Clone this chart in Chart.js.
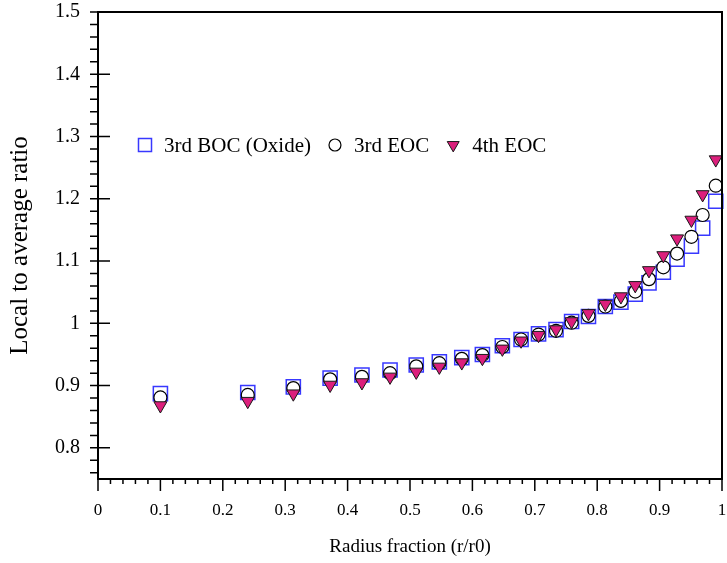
<!DOCTYPE html>
<html>
<head>
<meta charset="utf-8">
<script src="https://cdn.jsdelivr.net/npm/chart.js@4/dist/chart.umd.min.js"></script>
<style>
  html, body { margin: 0; padding: 0; background: #ffffff; }
  #wrap { width: 727px; height: 563px; }
</style>
</head>
<body>
<div id="wrap"><canvas id="c" width="727" height="563"></canvas></div>
<script>
// Ring positions (r/r0) and local-to-average ratios per cycle
const radius = [0.1, 0.24, 0.313, 0.372, 0.423, 0.468, 0.51, 0.547, 0.583, 0.616, 0.648, 0.678, 0.706,
                0.734, 0.759, 0.786, 0.813, 0.838, 0.861, 0.883, 0.906, 0.928, 0.951, 0.969, 0.99];
const boc3 = [0.887, 0.889, 0.898, 0.912, 0.917, 0.925, 0.933, 0.938, 0.945, 0.950, 0.964, 0.974, 0.983,
              0.990, 1.003, 1.011, 1.027, 1.034, 1.047, 1.065, 1.082, 1.103, 1.124, 1.153, 1.196];
const eoc3 = [0.881, 0.885, 0.896, 0.910, 0.914, 0.920, 0.931, 0.936, 0.943, 0.949, 0.962, 0.974, 0.982,
              0.988, 1.001, 1.012, 1.027, 1.036, 1.051, 1.071, 1.090, 1.112, 1.139, 1.174, 1.221];
const eoc4 = [0.868, 0.875, 0.887, 0.901, 0.905, 0.914, 0.922, 0.930, 0.937, 0.944, 0.959, 0.972, 0.981,
              0.990, 1.003, 1.016, 1.031, 1.043, 1.061, 1.085, 1.109, 1.136, 1.166, 1.207, 1.263];
const seriesNames = ['3rd BOC (Oxide)', '3rd EOC', '4th EOC'];
const xTickValues = [0, 0.1, 0.2, 0.3, 0.4, 0.5, 0.6, 0.7, 0.8, 0.9, 1];
const yTickValues = [0.8, 0.9, 1, 1.1, 1.2, 1.3, 1.4, 1.5];
const minorStep = 0.02;

const SERIF = '"Liberation Serif", "Times New Roman", serif';

function pairs(xs, ys) { return xs.map((x, i) => ({ x: x, y: ys[i] })); }

// Frame on top/right plus outward minor ticks and longer major ticks
const frameTicks = {
  id: 'frameTicks',
  afterDraw(chart) {
    const { ctx, chartArea: { left, right, top, bottom }, scales: { x, y } } = chart;
    ctx.save();
    ctx.strokeStyle = '#000';
    ctx.lineWidth = 2;
    ctx.beginPath();
    ctx.moveTo(left - 1, top);
    ctx.lineTo(right, top);
    ctx.lineTo(right, bottom + 1);
    ctx.stroke();

    ctx.lineWidth = 1.5;
    ctx.beginPath();
    const kx0 = Math.ceil(x.min / minorStep - 1e-9), kx1 = Math.floor(x.max / minorStep + 1e-9);
    for (let k = kx0; k <= kx1; k++) {
      const px = x.getPixelForValue(k * minorStep);
      const major = k % 5 === 0;
      ctx.moveTo(px, bottom);
      ctx.lineTo(px, bottom + (major ? 12 : 5));
    }
    const ky0 = Math.ceil(y.min / minorStep - 1e-9), ky1 = Math.floor(y.max / minorStep + 1e-9);
    for (let k = ky0; k <= ky1; k++) {
      const py = y.getPixelForValue(k * minorStep);
      const major = k % 5 === 0;
      ctx.moveTo(left - 8, py);
      ctx.lineTo(major ? left + 12 : left, py);
    }
    ctx.stroke();
    ctx.restore();
  }
};

// Single-row legend drawn inside the plot area
const innerLegend = {
  id: 'innerLegend',
  afterDraw(chart) {
    const { ctx } = chart;
    const h = Chart.helpers;
    ctx.save();
    ctx.font = '21px ' + SERIF;
    ctx.textBaseline = 'middle';
    ctx.textAlign = 'left';
    let cx = 145;
    const cy = 145;
    chart.data.datasets.forEach((ds) => {
      ctx.fillStyle = ds.pointBackgroundColor;
      ctx.strokeStyle = ds.pointBorderColor;
      ctx.lineWidth = ds.pointBorderWidth;
      if (h && h.drawPoint) {
        h.drawPoint(ctx, {
          pointStyle: ds.pointStyle,
          rotation: ds.pointRotation || 0,
          radius: ds.pointRadius * 0.92,
          borderWidth: ds.pointBorderWidth
        }, cx, cy);
      }
      const tx = cx + 19;
      ctx.fillStyle = '#000';
      ctx.fillText(ds.label, tx, cy + 1);
      cx = tx + ctx.measureText(ds.label).width + 24;
    });
    ctx.restore();
  }
};

new Chart(document.getElementById('c'), {
  type: 'scatter',
  data: {
    datasets: [
      {
        label: seriesNames[0],
        data: pairs(radius, boc3),
        order: 3,
        pointStyle: 'rect',
        pointRadius: 10,
        pointBackgroundColor: 'rgba(255,255,255,0)',
        pointBorderColor: '#3838ff',
        pointBorderWidth: 1.5,
        clip: false
      },
      {
        label: seriesNames[1],
        data: pairs(radius, eoc3),
        order: 2,
        pointStyle: 'circle',
        pointRadius: 6.5,
        pointBackgroundColor: '#ffffff',
        pointBorderColor: '#000000',
        pointBorderWidth: 1.2,
        clip: false
      },
      {
        label: seriesNames[2],
        data: pairs(radius, eoc4),
        order: 1,
        pointStyle: 'triangle',
        pointRotation: 180,
        pointRadius: 7.5,
        pointBackgroundColor: '#dc1f7c',
        pointBorderColor: '#1a1a1a',
        pointBorderWidth: 1,
        clip: false
      }
    ]
  },
  options: {
    responsive: false,
    animation: false,
    events: [],
    layout: { autoPadding: false, padding: { top: 12, right: 5, left: 0, bottom: 0 } },
    plugins: { legend: { display: false }, tooltip: { enabled: false } },
    scales: {
      x: {
        type: 'linear',
        min: 0,
        max: 1,
        afterFit(scale) { scale.height = 84; scale.paddingRight = 0; scale.paddingLeft = 0; },
        afterBuildTicks(scale) { scale.ticks = xTickValues.map(v => ({ value: v })); },
        border: { display: true, color: '#000', width: 2 },
        grid: { display: true, drawOnChartArea: false, drawTicks: true, tickLength: 21, tickColor: 'rgba(0,0,0,0)' },
        ticks: {
          padding: 0,
          color: '#000',
          maxRotation: 0,
          autoSkip: false,
          font: { family: SERIF, size: 17 },
          callback: (v) => String(Math.round(v * 10) / 10)
        },
        title: {
          display: true,
          text: 'Radius fraction (r/r0)',
          color: '#000',
          font: { family: SERIF, size: 19 },
          padding: { top: 0, bottom: 5 }
        }
      },
      y: {
        type: 'linear',
        min: 0.75,
        max: 1.5,
        afterFit(scale) { scale.width = 98; },
        afterBuildTicks(scale) { scale.ticks = yTickValues.map(v => ({ value: v })); },
        border: { display: true, color: '#000', width: 2 },
        grid: { display: true, drawOnChartArea: false, drawTicks: true, tickLength: 18, tickColor: 'rgba(0,0,0,0)' },
        ticks: {
          padding: 0,
          color: '#000',
          autoSkip: false,
          font: { family: SERIF, size: 20 },
          callback: (v) => String(Math.round(v * 10) / 10)
        },
        title: {
          display: true,
          text: 'Local to average ratio',
          color: '#000',
          font: { family: SERIF, size: 25 },
          padding: { top: 5, bottom: 0 }
        }
      }
    }
  },
  plugins: [frameTicks, innerLegend]
});
</script>
</body>
</html>
